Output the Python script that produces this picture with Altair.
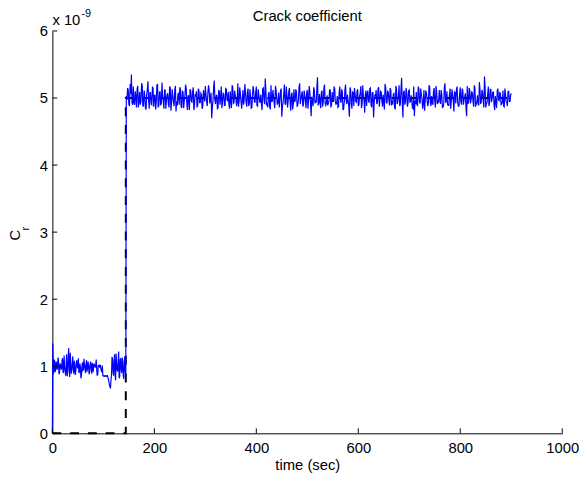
import altair as alt
import pandas as pd

FONT = "Liberation Sans, Arial, Helvetica, sans-serif"

# ---- data (values in units of 1e-9) ----
# low phase, even seconds
low_times_a = [0, 0.8] + list(range(2, 145, 2))
low_values_a = [
    0.00, 1.34,
    0.88, 1.10, 0.93, 1.05, 0.97, 1.08, 0.90, 1.02, 0.95, 1.12,
    0.92, 0.99, 0.86, 1.18, 0.91, 1.27, 0.84, 1.06, 0.95, 1.15,
    0.89, 1.01, 0.93, 1.09, 0.97, 0.90, 1.04, 0.82, 1.00, 0.94,
    1.11, 0.96, 1.03, 0.92, 1.07, 0.88, 1.02, 0.97, 1.05, 0.91,
    1.04, 0.98, 1.10, 0.86, 1.02, 1.01, 1.02, 0.93, 1.01, 0.86,
    0.85, 0.86, 0.85, 0.86, 0.80, 0.72, 0.67, 0.88, 1.10, 0.86,
    1.18, 0.79, 1.05, 0.92, 1.22, 0.84, 1.12, 0.90, 1.08, 0.81,
    1.15, 0.87,
]
# low phase, odd seconds
low_times_b = list(range(3, 144, 2))
low_values_b = [
    1.02, 0.91, 1.07, 0.95, 1.13, 0.88, 1.04, 0.97, 1.09, 0.90,
    1.16, 0.93, 1.01, 0.85, 1.11, 0.96, 1.20, 0.89, 1.03, 0.94,
    1.08, 0.87, 1.05, 0.99, 1.12, 0.92, 0.98, 0.86, 1.06, 0.95,
    1.02, 0.90, 1.09, 0.97, 1.01, 0.93, 1.07, 0.89, 1.03, 1.00,
    1.01, 1.02, 0.94, 0.88, 1.00, 0.98, 0.97, 0.92, 0.86, 0.85,
    0.86, 0.85, 0.86, 0.83, 0.76, 0.69, 0.80, 1.14, 0.91, 1.08,
    0.87, 1.19, 0.94, 1.06, 0.82, 1.10, 0.95, 1.13, 0.86, 1.04,
    0.92,
]

# high phase, samples A
high_times_a = [145 + 2.5 * i for i in range(303)]
high_values_a = [
    5.03, 5.15, 4.91, 5.21, 5.35, 4.90, 4.93, 5.10, 4.86, 5.18, 4.95, 4.90, 5.22, 4.87, 5.11, 4.85, 5.06, 5.25, 4.84, 5.08,
    4.90, 5.15, 5.03, 4.83, 5.19, 4.87, 5.08, 4.89, 5.23, 4.96, 5.12, 4.84, 5.05, 4.91, 5.17, 4.81, 5.13, 4.94, 5.11, 4.80,
    4.89, 5.07, 5.16, 4.87, 5.10, 4.85, 5.04, 5.14, 4.82, 5.02, 5.13, 4.95, 5.09, 4.82, 5.06, 5.10, 4.88, 5.11, 4.93, 5.05,
    4.88, 5.03, 5.18, 4.94, 5.08, 5.12, 5.01, 4.70, 4.96, 5.26, 4.91, 5.05, 4.86, 5.10, 5.02, 4.85, 5.07, 4.89, 5.14, 4.97,
    5.09, 4.84, 4.96, 5.19, 4.92, 5.11, 4.99, 4.94, 4.87, 5.16, 4.95, 4.97, 4.90, 5.21, 4.93, 5.08, 4.88, 5.13, 4.85, 5.05,
    5.10, 4.94, 5.17, 4.88, 5.04, 4.93, 4.91, 5.14, 4.97, 5.29, 4.89, 4.86, 5.09, 4.83, 4.95, 5.12, 4.92, 5.18, 4.99, 4.94,
    4.86, 5.11, 4.72, 4.93, 5.20, 4.90, 5.05, 4.96, 5.15, 4.81, 5.08, 4.91, 4.94, 5.13, 4.88, 4.97, 5.22, 4.97, 5.10, 4.91,
    5.04, 4.85, 5.12, 4.98, 5.09, 4.73, 4.94, 5.16, 4.92, 4.93, 5.31, 4.91, 4.95, 5.08, 4.87, 5.14, 4.92, 4.93, 4.89, 4.96,
    5.11, 4.90, 4.95, 5.17, 4.94, 4.92, 4.86, 5.09, 4.97, 5.13, 4.82, 4.94, 5.20, 4.91, 4.96, 4.72, 5.12, 4.84, 5.07, 5.15,
    4.95, 5.10, 4.88, 5.03, 5.18, 4.92, 5.01, 4.78, 5.11, 5.06, 4.96, 5.14, 4.90, 5.08, 4.71, 5.05, 5.12, 4.93, 5.16, 4.98,
    5.09, 4.87, 4.94, 5.21, 4.94, 5.10, 4.97, 5.15, 4.89, 4.92, 5.07, 4.83, 5.13, 4.95, 5.19, 4.91, 5.30, 4.71, 5.11, 4.94,
    5.08, 4.92, 5.12, 4.96, 4.95, 4.84, 4.73, 4.91, 4.90, 5.17, 4.94, 5.14, 4.98, 4.92, 4.81, 5.11, 4.96, 4.93, 5.16, 4.88,
    4.93, 5.10, 4.95, 5.18, 4.91, 4.93, 4.99, 5.12, 4.85, 4.90, 5.22, 4.96, 4.91, 4.89, 5.14, 4.97, 5.05, 4.80, 5.08, 5.13,
    4.94, 4.88, 5.16, 4.90, 5.11, 4.98, 5.07, 4.73, 4.92, 5.15, 4.92, 5.10, 4.95, 5.19, 4.87, 4.94, 4.91, 5.24, 4.91, 5.12,
    4.96, 5.32, 4.86, 4.93, 5.17, 4.93, 5.13, 4.99, 5.09, 4.82, 4.95, 5.11, 4.97, 5.08, 4.90, 4.94, 4.88, 5.14, 4.94, 4.88,
    5.10, 4.95, 5.07,
]
# high phase, samples B (in between the A samples)
high_times_b = [146.25 + 2.5 * i for i in range(302)]
high_values_b = [
    4.97, 5.12, 4.88, 5.06, 4.93, 5.17, 4.90, 5.02, 5.14, 4.86, 5.09, 4.95, 5.19, 4.89, 5.04, 4.83, 5.13, 4.96, 5.08, 4.91,
    5.16, 4.87, 5.05, 4.94, 5.21, 4.88, 5.10, 4.92, 5.01, 4.84, 5.12, 4.97, 5.07, 4.86, 5.15, 4.93, 5.03, 4.88, 5.18, 4.95,
    5.06, 4.90, 5.13, 4.85, 5.09, 4.96, 5.20, 4.91, 5.04, 4.82, 5.11, 4.94, 5.16, 4.89, 5.02, 4.87, 5.14, 4.93, 5.07, 4.84,
    5.12, 4.95, 5.05, 4.88, 5.19, 4.92, 5.08, 4.86, 5.15, 4.97, 5.03, 4.83, 5.11, 4.90, 5.17, 4.94, 5.06, 4.89, 5.13, 4.96,
    4.91, 5.10, 4.85, 5.16, 4.93, 5.04, 4.88, 5.22, 4.95, 5.07, 4.84, 5.12, 4.97, 5.09, 4.87, 5.14, 4.92, 5.02, 4.86, 5.18,
    4.94, 5.08, 4.89, 5.13, 4.96, 5.05, 4.82, 5.15, 4.91, 5.11, 4.93, 5.06, 4.87, 5.19, 4.95, 5.03, 4.85, 5.12, 4.90, 5.08,
    4.97, 5.14, 4.88, 5.06, 4.92, 5.17, 4.86, 5.10, 4.94, 5.04, 4.83, 5.13, 4.96, 5.09, 4.89, 5.16, 4.91, 5.05, 4.87, 5.11,
    4.95, 5.07, 4.84, 5.18, 4.93, 5.02, 4.88, 5.12, 4.97, 5.15, 4.90, 5.06, 4.85, 5.11, 4.94, 5.20, 4.89, 5.04, 4.92, 5.13,
    4.86, 5.09, 4.95, 5.14, 4.91, 5.03, 4.87, 5.17, 4.93, 5.08, 4.84, 5.12, 4.96, 5.05, 4.89, 5.16, 4.92, 5.10, 4.88, 5.06,
    4.94, 5.13, 4.90, 5.07, 4.85, 5.19, 4.97, 5.04, 4.88, 5.11, 4.93, 5.15, 4.86, 5.08, 4.95, 5.02, 4.91, 5.14, 4.87, 5.10,
    4.96, 5.05, 4.83, 5.16, 4.92, 5.09, 4.89, 5.12, 4.94, 5.06, 4.86, 5.18, 4.91, 5.03, 4.88, 5.13, 4.95, 5.08, 4.90, 5.15,
    4.87, 5.11, 4.93, 5.04, 4.85, 5.17, 4.96, 5.09, 4.89, 5.14, 4.92, 5.06, 4.84, 5.12, 4.97, 5.07, 4.88, 5.19, 4.94, 5.03,
    4.90, 5.15, 4.86, 5.08, 4.95, 5.12, 4.91, 5.05, 4.87, 5.16, 4.93, 5.10, 4.89, 5.04, 4.84, 5.13, 4.96, 5.09, 4.92, 5.17,
    4.88, 5.06, 4.94, 5.14, 4.90, 5.02, 4.85, 5.18, 4.93, 5.11, 4.97, 5.07, 4.87, 5.15, 4.91, 5.04, 4.89, 5.12, 4.95, 5.08,
    4.86, 5.16, 4.92, 5.05, 4.88, 5.13, 4.94, 5.09, 4.90, 5.03, 4.85, 5.14, 4.96, 5.07, 4.91, 5.11, 4.87, 5.06, 4.93, 5.10,
    4.95, 5.04,
]

ref_times = [0, 144, 144, 900]
ref_values = [0, 0, 5, 5]

x_ticks = [0, 200, 400, 600, 800, 1000]
y_ticks = [0, 1, 2, 3, 4, 5, 6]

# ---- tables ----
est_df = pd.DataFrame({
    "t": low_times_a + low_times_b + high_times_a + high_times_b,
    "v": low_values_a + low_values_b + high_values_a + high_values_b,
}).sort_values("t", kind="stable").reset_index(drop=True)
est_df["i"] = range(len(est_df))
ref_df = pd.DataFrame({"t": ref_times, "v": ref_values, "i": list(range(len(ref_times)))})
xt_df = pd.DataFrame({"t": x_ticks})
yt_df = pd.DataFrame({"v": y_ticks})

W, H = 517, 408
xs = alt.Scale(domain=[0, 1000], nice=False, zero=False)
ys = alt.Scale(domain=[0, 6], nice=False, zero=False)

x_axis = alt.Axis(values=x_ticks, title="time (sec)", format="d", titleBaseline="alphabetic",
                  titleY=37, labelFlush=False, labelOverlap=False, labelPadding=7)
y_axis = alt.Axis(values=y_ticks, title="", format="d", labelFlush=False,
                  labelOverlap=False, labelPadding=5)

ref_line = alt.Chart(ref_df).mark_line(color="black", strokeWidth=2, strokeDash=[9, 9]).encode(
    x=alt.X("t:Q", scale=xs, axis=x_axis),
    y=alt.Y("v:Q", scale=ys, axis=y_axis),
    order="i:Q",
)

est_line = alt.Chart(est_df).mark_line(color="#0000ff", strokeWidth=1.2).encode(
    x=alt.X("t:Q", scale=xs),
    y=alt.Y("v:Q", scale=ys),
    order="i:Q",
)

x_tick_marks = alt.Chart(xt_df).mark_rule(color="black", strokeWidth=1).encode(
    x=alt.X("t:Q", scale=xs),
    y=alt.value(H),
    y2=alt.value(H - 5),
)
y_tick_marks = alt.Chart(yt_df).mark_rule(color="black", strokeWidth=1).encode(
    y=alt.Y("v:Q", scale=ys),
    x=alt.value(0),
    x2=alt.value(5),
)


def label(txt, x, y, size, angle=0, align="center"):
    return alt.Chart(pd.DataFrame({"s": [txt]})).mark_text(
        text=txt, font=FONT, fontSize=size, angle=angle, align=align,
        baseline="alphabetic", color="black",
    ).encode(x=alt.value(x), y=alt.value(y))


title_txt = label("Crack coefficient", W / 2, -10, 15)
c_txt = label("C", -33, 207, 15, angle=270)
r_txt = label("r", -23.5, 200.5, 11, angle=270)
exp_txt = label("x 10", 0, -6.3, 15, align="left")
exp_sup = label("-9", 29.5, -14.5, 11, align="left")

chart = alt.layer(
    ref_line, est_line, x_tick_marks, y_tick_marks,
    title_txt, c_txt, r_txt, exp_txt, exp_sup,
).properties(
    width=W, height=H,
    padding={"left": 45, "top": 20, "right": 17, "bottom": 40},
    autosize=alt.AutoSizeParams(type="none"),
).configure_view(
    strokeWidth=0
).configure_axis(
    grid=False,
    domainColor="black",
    domainWidth=1,
    tickSize=0,
    labelFont=FONT,
    labelFontSize=15,
    labelColor="black",
    titleFont=FONT,
    titleFontSize=15,
    titleFontWeight="normal",
    titleColor="black",
)

chart.save("out.html", embed_options={"renderer": "svg", "actions": False})
